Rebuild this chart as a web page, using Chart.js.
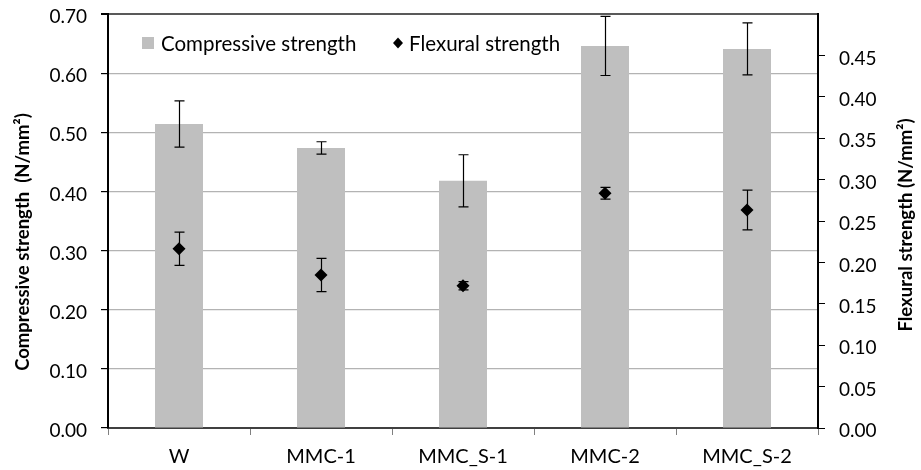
<!DOCTYPE html>
<html>
<head>
<meta charset="utf-8">
<script src="https://cdn.jsdelivr.net/npm/chart.js@4/dist/chart.umd.min.js"></script>
<style>
  html, body { margin: 0; padding: 0; background: #ffffff; }
  #wrap { width: 921px; height: 470px; position: relative; }
</style>
</head>
<body>
<div id="wrap"><canvas id="chart" width="921" height="470"></canvas></div>
<script>
// Mix designs
const categories = ['W', 'MMC-1', 'MMC_S-1', 'MMC-2', 'MMC_S-2'];

// Compressive strength (N/mm²), mean and standard deviation
const compressive = [0.514, 0.4735, 0.418, 0.646, 0.641];
const compressiveErr = [0.039, 0.0105, 0.044, 0.050, 0.044];

// Flexural strength (N/mm²), mean and standard deviation
const flexural = [0.2165, 0.1848, 0.1719, 0.2835, 0.2633];
const flexuralErr = [0.020, 0.020, 0.005, 0.0072, 0.024];

const leftTitle = 'Compressive strength  (N/mm²)';
const rightTitle = 'Flexural strength (N/mm²)';

const FONT = 'Lato, "Noto Sans", sans-serif';

// Error bars with end caps, drawn from each dataset's own scale
function drawErrors(chart, meta, errs) {
  const ds = chart.data.datasets[meta.index];
  const scale = chart.scales[ds.yAxisID];
  const ctx = chart.ctx;
  ctx.save();
  ctx.strokeStyle = '#000000';
  ctx.lineWidth = 1.2;
  meta.data.forEach((el, i) => {
    const v = ds.data[i], e = errs[i];
    const x = Math.round(el.x) + 0.5;
    const yTop = scale.getPixelForValue(v + e);
    const yBot = scale.getPixelForValue(v - e);
    const cap = 5;
    ctx.beginPath();
    ctx.moveTo(x, yTop); ctx.lineTo(x, yBot);
    ctx.moveTo(x - cap, yTop); ctx.lineTo(x + cap, yTop);
    ctx.moveTo(x - cap, yBot); ctx.lineTo(x + cap, yBot);
    ctx.stroke();
  });
  ctx.restore();
}

const errorBars = {
  id: 'errorBars',
  afterDatasetDraw(chart, args) {
    const ds = chart.data.datasets[args.index];
    if (ds.type === 'bar') drawErrors(chart, args.meta, ds.errors);
  },
  beforeDatasetDraw(chart, args) {
    const ds = chart.data.datasets[args.index];
    if (ds.type === 'line') drawErrors(chart, args.meta, ds.errors);
  }
};

// Legend inside the plot area and both rotated axis titles
const decorations = {
  id: 'decorations',
  afterDraw(chart) {
    const ctx = chart.ctx;
    const a = chart.chartArea;
    const [barDs, lineDs] = chart.data.datasets;
    ctx.save();
    ctx.textBaseline = 'middle';
    ctx.textAlign = 'left';
    ctx.font = '20.5px ' + FONT;
    const ly = a.top + 29;
    ctx.fillStyle = barDs.backgroundColor;
    ctx.fillRect(a.left + 34, ly - 6, 12, 12);
    ctx.fillStyle = '#000';
    ctx.fillText(barDs.label, a.left + 53, ly + 1);
    const dx = a.left + 290;
    ctx.beginPath();
    ctx.moveTo(dx, ly - 5.5); ctx.lineTo(dx + 5, ly); ctx.lineTo(dx, ly + 5.5); ctx.lineTo(dx - 5, ly);
    ctx.closePath();
    ctx.fill();
    ctx.fillText(lineDs.label, a.left + 301, ly + 1);

    ctx.font = 'bold 18.5px ' + FONT;
    ctx.textAlign = 'center';
    ctx.translate(23, 242);
    ctx.rotate(-Math.PI / 2);
    ctx.fillText(leftTitle, 0, 0);
    ctx.setTransform(1, 0, 0, 1, 0, 0);
    ctx.translate(906, 225);
    ctx.rotate(-Math.PI / 2);
    ctx.fillText(rightTitle, 0, 0);
    ctx.restore();
  }
};

// Fixed scale sizes so the plot area sits at left 108, right 818, top 14, bottom 428
function fixVertical(width) {
  return (scale) => {
    scale.width = width;
    scale.paddingTop = 0;
    scale.paddingBottom = 0;
  };
}

new Chart(document.getElementById('chart'), {
  data: {
    labels: categories,
    datasets: [
      {
        type: 'bar',
        label: 'Compressive strength',
        data: compressive,
        errors: compressiveErr,
        backgroundColor: '#bfbfbf',
        borderWidth: 0,
        yAxisID: 'y',
        categoryPercentage: 1,
        barPercentage: 0.338,
        order: 1
      },
      {
        type: 'line',
        label: 'Flexural strength',
        data: flexural,
        errors: flexuralErr,
        showLine: false,
        pointStyle: 'rectRot',
        pointRadius: 6.5,
        pointHoverRadius: 6.5,
        backgroundColor: '#000',
        borderColor: '#000',
        borderWidth: 0,
        yAxisID: 'y1',
        order: 0
      }
    ]
  },
  options: {
    responsive: false,
    animation: false,
    events: [],
    layout: { autoPadding: false, padding: { top: 14, left: 0, right: 0, bottom: 0 } },
    plugins: {
      legend: { display: false },
      tooltip: { enabled: false },
      title: { display: false }
    },
    scales: {
      x: {
        type: 'category',
        offset: true,
        afterFit(scale) {
          scale.height = 42;
          scale.paddingLeft = 0;
          scale.paddingRight = 0;
        },
        grid: {
          display: true,
          offset: true,
          drawOnChartArea: false,
          tickLength: 7,
          tickColor: '#808080',
          lineWidth: 1
        },
        border: { display: true, color: '#404040', width: 2 },
        ticks: {
          color: '#000',
          font: { family: FONT, size: 20 },
          padding: 10,
          maxRotation: 0
        }
      },
      y: {
        position: 'left',
        min: 0,
        max: 0.7,
        afterFit: fixVertical(108),
        grid: {
          color: (c) => (c.tick && c.tick.value >= 0.7 - 1e-9) ? '#595959' : '#b3b3b3',
          lineWidth: (c) => (c.tick && c.tick.value >= 0.7 - 1e-9) ? 2 : 1.2,
          tickColor: '#000',
          tickLength: 7,
          drawTicks: true
        },
        border: { display: true, color: '#000', width: 2 },
        ticks: {
          stepSize: 0.1,
          color: '#000',
          font: { family: FONT, size: 19 },
          padding: 14,
          labelOffset: 3,
          callback: (v) => Number(v).toFixed(2)
        }
      },
      y1: {
        position: 'right',
        min: 0,
        max: 0.5,
        afterFit: fixVertical(103),
        grid: {
          drawOnChartArea: false,
          tickColor: (c) => (c.tick && c.tick.value >= 0.5 - 1e-9) ? 'rgba(0,0,0,0)' : '#000',
          tickLength: 7
        },
        border: { display: true, color: '#000', width: 2 },
        ticks: {
          stepSize: 0.05,
          color: '#000',
          font: { family: FONT, size: 19 },
          padding: 14,
          labelOffset: 3,
          callback: (v) => (v >= 0.5 - 1e-9 ? '' : Number(v).toFixed(2))
        }
      }
    }
  },
  plugins: [errorBars, decorations]
});
</script>
</body>
</html>
